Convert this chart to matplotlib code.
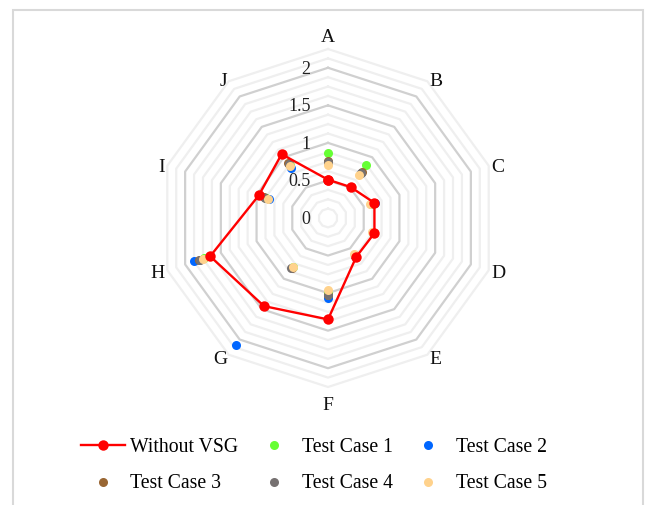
import numpy as np
import matplotlib
matplotlib.use("Agg")
import matplotlib.pyplot as plt
from matplotlib.patches import Rectangle

plt.rcParams['font.family'] = ['Liberation Serif', 'DejaVu Serif']

categories = ["A", "B", "C", "D", "E", "F", "G", "H", "I", "J"]
without_vsg = [0.51, 0.51, 0.65, 0.65, 0.64, 1.35, 1.45, 1.65, 0.97, 1.05]
test_case_1 = [0.86, 0.87, 0.62, 0.63, 0.64, 1.00, 0.80, 1.73, 0.87, 0.87]
test_case_2 = [0.74, 0.74, 0.66, 0.64, 0.62, 1.06, 2.09, 1.87, 0.82, 0.83]
test_case_3 = [0.76, 0.76, 0.61, 0.64, 0.62, 1.02, 0.82, 1.80, 0.89, 0.90]
test_case_4 = [0.74, 0.74, 0.60, 0.63, 0.61, 1.03, 0.83, 1.79, 0.88, 0.89]
test_case_5 = [0.71, 0.71, 0.59, 0.62, 0.60, 0.96, 0.80, 1.75, 0.84, 0.85]
radial_ticks = [0, 0.5, 1, 1.5, 2]
radial_tick_labels = ["0", "0.5", "1", "1.5", "2"]
r_max = 2.25
minor_step = 0.125

fig = plt.figure(figsize=(6.46, 5.05), dpi=100)
W, H = 646, 505
cx, cy, R = 328, 218, 169
ax = fig.add_axes([(cx - R) / W, (H - cy - R) / H, 2 * R / W, 2 * R / H], projection='polar')
ax.set_theta_zero_location('N')
ax.set_theta_direction(-1)
ax.set_ylim(0, r_max)
ax.grid(False)
ax.spines['polar'].set_visible(False)
ax.set_xticks([])
ax.set_yticks([])
ax.patch.set_alpha(0)

n = len(categories)
theta = np.linspace(0, 2 * np.pi, n, endpoint=False)
theta_closed = np.append(theta, theta[0])

# polygon grid
levels = np.arange(minor_step, r_max + 1e-9, minor_step)
for lv in levels:
    major = abs(lv / 0.5 - round(lv / 0.5)) < 1e-9
    ax.plot(theta_closed, [lv] * (n + 1), color='#d0d0d0' if major else '#efefef',
            lw=1.6, zorder=1 if major else 0.5, clip_on=False)

# radial tick labels
for v, lab in zip(radial_ticks, radial_tick_labels):
    ax.annotate(lab, xy=(0, v), xytext=(-12.5, -1), textcoords='offset points',
                ha='right', va='center', fontsize=13, color='#222222', annotation_clip=False)

# category labels
for t, c in zip(theta, categories):
    s = np.sin(t)
    co = np.cos(t)
    if abs(s) < 1e-6:
        ha = 'center'
        va = 'bottom' if co > 0 else 'top'
        off = (0, 0) if co > 0 else (0, -5)
    else:
        ha = 'left' if s > 0 else 'right'
        va = 'center'
        off = (0, -2)
    ax.annotate(c, xy=(t, 2.29), xytext=off, textcoords='offset points',
                ha=ha, va=va, fontsize=14, color='#111111', annotation_clip=False)

series = [
    ("Test Case 1", test_case_1, '#66ff33'),
    ("Test Case 2", test_case_2, '#0066ff'),
    ("Test Case 3", test_case_3, '#996633'),
    ("Test Case 4", test_case_4, '#767171'),
    ("Test Case 5", test_case_5, '#ffd28c'),
]
handles = {}
for name, vals, col in series:
    h, = ax.plot(theta, vals, linestyle='none', marker='o', markersize=6.5,
                 color=col, markeredgewidth=0, zorder=3, clip_on=False)
    handles[name] = h

hr, = ax.plot(theta_closed, without_vsg + [without_vsg[0]], color='#ff0000', lw=1.7,
              marker='o', markersize=7.5, markeredgewidth=0, zorder=4, clip_on=False)
handles["Without VSG"] = hr

order = ["Without VSG", "Test Case 3", "Test Case 1", "Test Case 4", "Test Case 2", "Test Case 5"]
leg = fig.legend([handles[k] for k in order], order, loc='upper center',
                 bbox_to_anchor=(314 / W, 1 - 420 / H), ncol=3, frameon=False, fontsize=14.2,
                 handlelength=2.2, handletextpad=0.3, columnspacing=0.7, labelspacing=0.9)

# figure border
fig.patches.append(Rectangle((13 / W, -0.05), (643 - 13) / W, 1.05 - 10 / H,
                             transform=fig.transFigure, fill=False, edgecolor='#d9d9d9',
                             lw=1.5, zorder=-1))

fig.savefig('out.png', dpi=100)
